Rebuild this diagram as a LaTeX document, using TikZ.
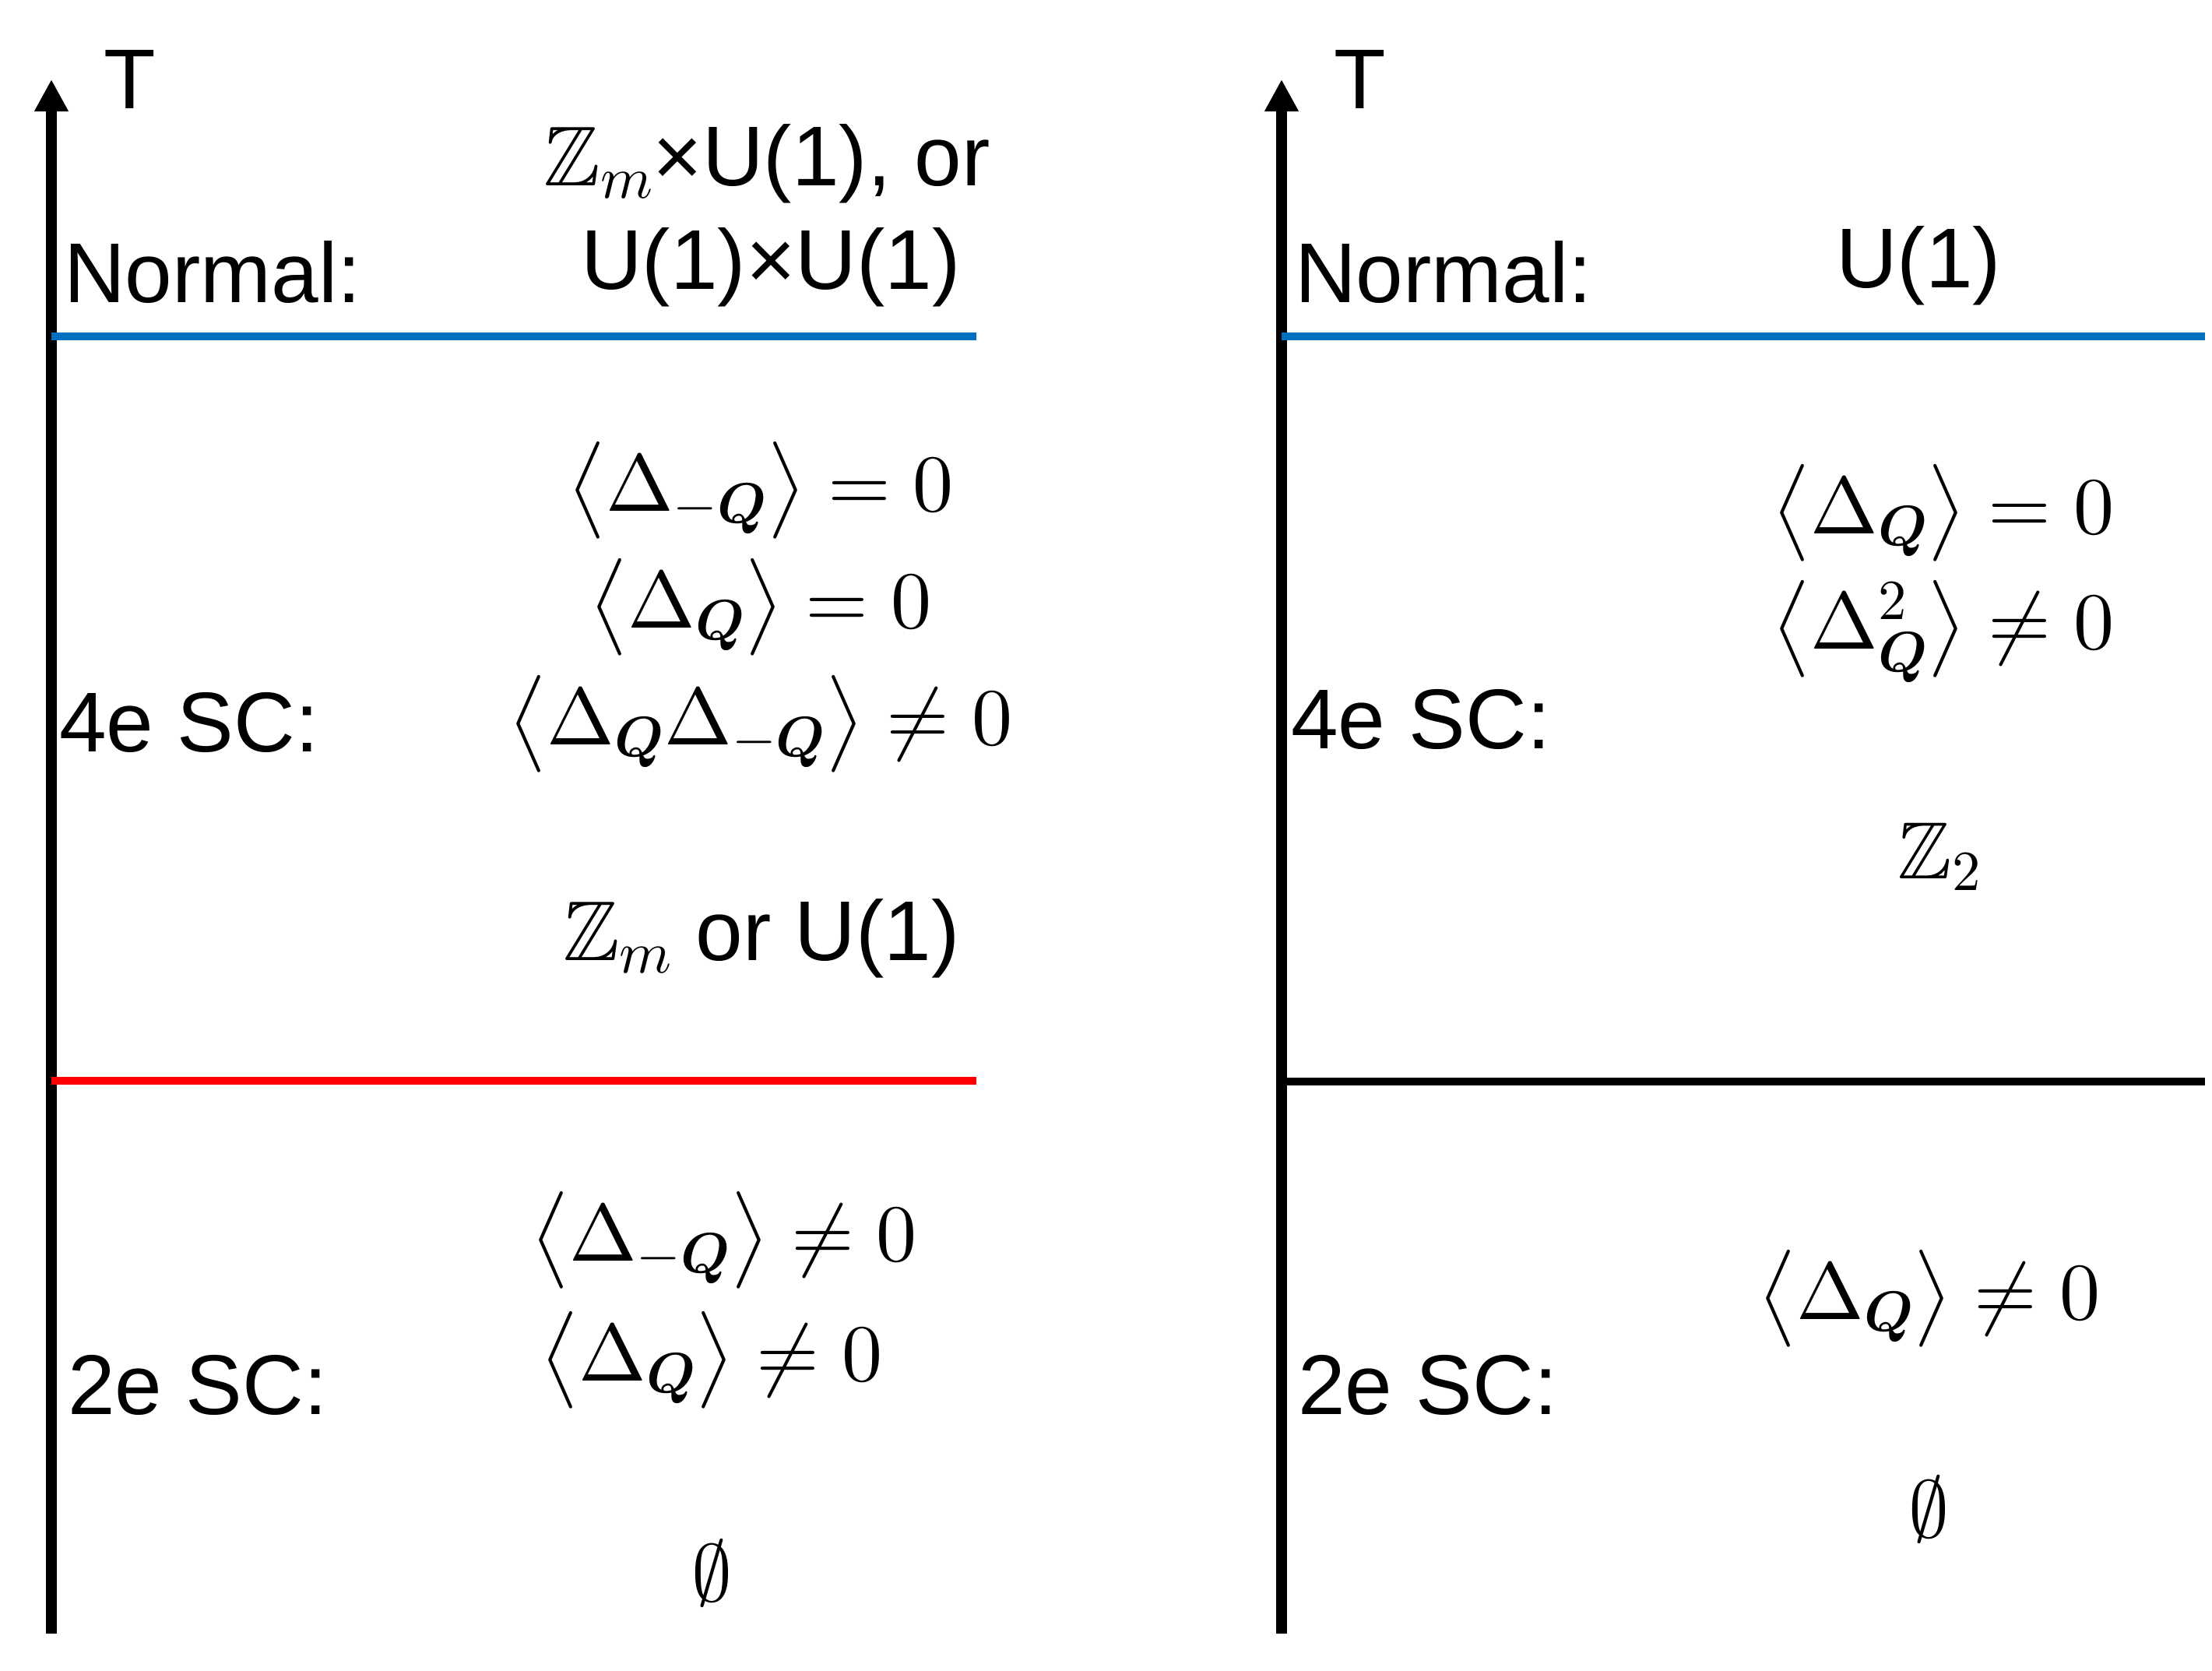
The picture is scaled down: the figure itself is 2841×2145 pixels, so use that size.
\documentclass[tikz,border=0pt]{standalone}
\usepackage{amsmath,amssymb}
\usepackage[no-math]{fontspec}
\setmainfont{Liberation Sans}
\DeclareFontShape{OT1}{cmr}{m}{n}{<->cmr10}{}
\DeclareFontShape{OT1}{cmr}{bx}{n}{<->cmbx10}{}
\DeclareFontShape{OML}{cmm}{m}{it}{<->cmmi10}{}
\DeclareFontShape{OML}{cmm}{b}{it}{<->cmmib10}{}
\DeclareFontShape{OMS}{cmsy}{m}{n}{<->cmsy10}{}
\DeclareFontShape{OMS}{cmsy}{b}{n}{<->cmbsy10}{}
\DeclareFontShape{OMX}{cmex}{m}{n}{<->cmex10}{}
\usetikzlibrary{arrows.meta}
\definecolor{lineblue}{HTML}{0070C0}
\definecolor{linered}{HTML}{FF0000}
\begin{document}
\begin{tikzpicture}[x=1pt,y=-1pt,
  lbl/.style={font=\fontsize{109}{120}\selectfont, inner sep=0pt},
  mth/.style={font=\fontsize{104}{124}\selectfont, inner sep=0pt},
  axisline/.style={line width=14pt,-{Triangle[width=41pt,length=41pt]}},
  phase/.style={line width=10pt}]
\useasboundingbox (0,0) rectangle (2841,2145);
% ---------- left panel ----------
\coordinate (LA0) at (66,2098);
\coordinate (LA1) at (66,102);
\draw[axisline] (LA0) -- (LA1);
\node[lbl] (LT) at (167,102) {T};
\coordinate (LB0) at (66,432);
\coordinate (LB1) at (1254,432);
\draw[phase,lineblue] (LB0) -- (LB1);
\coordinate (LR0) at (66,1388);
\coordinate (LR1) at (1254,1388);
\draw[phase,linered] (LR0) -- (LR1);
\node[lbl,anchor=west] (LN) at (82,350) {Normal:};
\node[lbl] (LS1) at (985,210) {$\mathbb{Z}_m$×U(1), or};
\node[lbl] (LS2) at (990,343) {U(1)×U(1)};
\node[mth] (LE1) at (977,630) {$\big\langle\Delta_{-\boldsymbol{Q}}\big\rangle = 0$};
\node[mth] (LE2) at (977,780) {$\big\langle\Delta_{\boldsymbol{Q}}\big\rangle = 0$};
\node[mth] (LE3) at (977,930) {$\big\langle\Delta_{\boldsymbol{Q}}\Delta_{-\boldsymbol{Q}}\big\rangle \neq 0$};
\node[lbl,anchor=west] (L4e) at (76,928) {4e SC:};
\node[lbl] (LS3) at (978,1205) {$\mathbb{Z}_m$ or U(1)};
\node[mth] (LE4) at (930,1593) {$\big\langle\Delta_{-\boldsymbol{Q}}\big\rangle \neq 0$};
\node[mth] (LE5) at (914,1747) {$\big\langle\Delta_{\boldsymbol{Q}}\big\rangle \neq 0$};
\node[lbl,anchor=west] (L2e) at (87,1779) {2e SC:};
\node[mth] (LS4) at (914,2020) {$\emptyset$};
% ---------- right panel ----------
\coordinate (RA0) at (1646,2098);
\coordinate (RA1) at (1646,102);
\draw[axisline] (RA0) -- (RA1);
\node[lbl] (RT) at (1747,102) {T};
\coordinate (RB0) at (1646,432);
\coordinate (RB1) at (2832,432);
\draw[phase,lineblue] (RB0) -- (RB1);
\coordinate (RK0) at (1646,1389);
\coordinate (RK1) at (2832,1389);
\draw[phase,black] (RK0) -- (RK1);
\node[lbl,anchor=west] (RN) at (1663,350) {Normal:};
\node[lbl] (RS1) at (2464,341) {U(1)};
\node[mth] (RE1) at (2496,659) {$\big\langle\Delta_{\boldsymbol{Q}}\big\rangle = 0$};
\node[mth] (RE2) at (2496,811) {$\big\langle\Delta_{\boldsymbol{Q}}^{2}\big\rangle \neq 0$};
\node[lbl,anchor=west] (R4e) at (1658,924) {4e SC:};
\node[mth] (RS2) at (2491,1100) {$\mathbb{Z}_2$};
\node[mth] (RE3) at (2478,1668) {$\big\langle\Delta_{\boldsymbol{Q}}\big\rangle \neq 0$};
\node[lbl,anchor=west] (R2e) at (1667,1779) {2e SC:};
\node[mth] (RS3) at (2477,1938) {$\emptyset$};
\end{tikzpicture}
\end{document}
